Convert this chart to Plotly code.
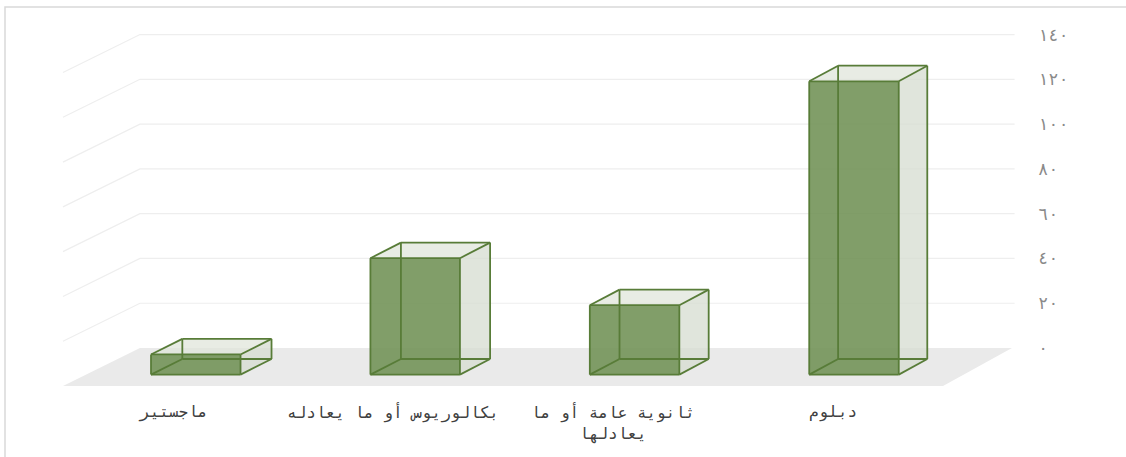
import plotly.graph_objects as go

# Education level counts (categories run right-to-left on the chart)
categories = ["دبلوم", "ثانوية عامة أو ما<br>يعادلها", "بكالوريوس أو ما يعادله", "ماجستير"]
counts = [131, 31, 52, 9]
tick_values = [0, 20, 40, 60, 80, 100, 120, 140]
tick_labels = ["٠", "٢٠", "٤٠", "٦٠", "٨٠", "١٠٠", "١٢٠", "١٤٠"]

# Oblique 3D projection: d=0 is the back wall, d=1 the front edge of the floor
DEPTH_V = 16.97           # vertical drop of full depth, in value units
K0, K1 = 0.321, 0.0092    # sideways shift of full depth, in category units
BAR_HALF = 0.204
D_BACK, D_FRONT = 0.29, 0.70
WALL_LO, WALL_HI = -0.5, 3.5

GREEN_EDGE = "#587c38"
GREEN_FACE = "rgba(112,145,84,0.88)"
SIDE_FACE = "rgba(214,220,208,0.75)"
TOP_FACE = "rgba(222,228,216,0.7)"
FLOOR = "#eaeaea"
GRID = "#eeeeee"
LABEL_FONT = "DejaVu Sans Mono, DejaVu Sans"


def proj(i, v, d):
    return i + d * (K0 + K1 * i), v - d * DEPTH_V


def poly(points):
    xs, ys = zip(*points)
    return list(xs) + [xs[0]], list(ys) + [ys[0]]


fig = go.Figure()


def add_fill(points, color):
    xs, ys = poly(points)
    fig.add_trace(go.Scatter(x=xs, y=ys, fill="toself", fillcolor=color, mode="lines",
                             line=dict(width=0), hoverinfo="skip", showlegend=False))


# Floor
add_fill([proj(WALL_HI, 0, 0), proj(WALL_LO, 0, 0), proj(WALL_LO, 0, 1), proj(WALL_HI, 0, 1)], FLOOR)

# Back-wall gridlines with their side-wall diagonals
gx, gy = [], []
for v in tick_values[1:]:
    for p in (proj(WALL_HI, v, 1), proj(WALL_HI, v, 0), proj(WALL_LO - 0.012, v, 0)):
        gx.append(p[0]); gy.append(p[1])
    gx.append(None); gy.append(None)
fig.add_trace(go.Scatter(x=gx, y=gy, mode="lines", line=dict(color=GRID, width=1.2),
                         hoverinfo="skip", showlegend=False))

# Bars as boxes
for idx, (label, val) in enumerate(zip(categories, counts)):
    l, r = idx + BAR_HALF, idx - BAR_HALF   # left / right in category units (reversed axis)
    c = {}
    for side, xi in (("l", l), ("r", r)):
        for lvl, vv in (("b", 0), ("t", val)):
            for dep, dd in (("f", D_FRONT), ("k", D_BACK)):
                c[side + lvl + dep] = proj(xi, vv, dd)
    # right side face and top face
    add_fill([c["rbf"], c["rbk"], c["rtk"], c["rtf"]], SIDE_FACE)
    add_fill([c["ltf"], c["rtf"], c["rtk"], c["ltk"]], TOP_FACE)
    # front face
    add_fill([c["lbf"], c["rbf"], c["rtf"], c["ltf"]], GREEN_FACE)
    # edges
    edges = [("lbf", "rbf"), ("rbf", "rtf"), ("rtf", "ltf"), ("ltf", "lbf"),
             ("lbk", "rbk"), ("rbk", "rtk"), ("rtk", "ltk"), ("ltk", "lbk"),
             ("lbf", "lbk"), ("rbf", "rbk"), ("rtf", "rtk"), ("ltf", "ltk")]
    ex, ey = [], []
    for a, b in edges:
        ex += [c[a][0], c[b][0], None]
        ey += [c[a][1], c[b][1], None]
    fig.add_trace(go.Scatter(x=ex, y=ey, mode="lines", line=dict(color=GREEN_EDGE, width=1.8),
                             hoverinfo="skip", showlegend=False))
    # category label under the front edge of the floor
    lx, ly = proj(idx, 0, 1)
    fig.add_annotation(x=lx, y=ly, text=label, showarrow=False, xanchor="center", yanchor="top",
                       yshift=-14, font=dict(size=16, color="#404040", family=LABEL_FONT))

# Outer chart frame (top and left edges visible)
fig.add_shape(type="rect", xref="paper", yref="paper", x0=5 / 1126, x1=1.01, y0=-0.01, y1=1 - 7 / 457,
              line=dict(color="#d9d9d9", width=1.5), layer="below")

fig.update_layout(
    width=1126, height=457, margin=dict(l=0, r=0, t=0, b=0),
    paper_bgcolor="white", plot_bgcolor="white",
    xaxis=dict(range=[4.142, -1.023], visible=False, fixedrange=True),
    yaxis=dict(range=[-48.68, 155.43], side="right", anchor="free", position=0.921,
               tickvals=tick_values, ticktext=tick_labels, showgrid=False, zeroline=False,
               showline=False, ticks="", tickfont=dict(size=17, color="#8a8a8a", family=LABEL_FONT)),
)

fig.write_html("out.html")
